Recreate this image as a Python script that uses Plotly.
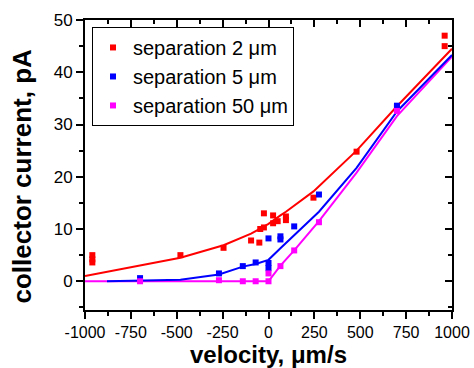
import plotly.graph_objects as go

# ---- data ----
red_x = [-960, -960, -960, -480, -245, -95, -50, -45, -25, -25, 25, 25, 50, 95, 95, 245, 480, 700, 960, 960]
red_y = [5.0, 4.2, 3.6, 5.0, 6.4, 7.8, 7.4, 10.0, 13.0, 10.3, 12.6, 11.1, 11.5, 12.4, 11.7, 16.0, 24.8, 33.4, 47.0, 45.0]

blue_x = [-700, -270, -140, -70, 0, 0, 0, 65, 65, 140, 275, 700]
blue_y = [0.6, 1.5, 2.9, 3.6, 3.5, 2.5, 8.2, 8.6, 8.0, 10.5, 16.6, 33.6]

mag_x = [-700, -270, -140, -70, 0, 0, 65, 140, 275, 700]
mag_y = [0.0, 0.2, 0.0, 0.0, 0.0, 1.5, 2.9, 5.9, 11.3, 32.6]

red_fit_x = [-1000, -480, -245, -95, -50, 0, 65, 95, 245, 480, 700, 1000]
red_fit_y = [1.0, 4.5, 6.9, 9.1, 10.0, 11.0, 12.6, 13.3, 17.2, 25.0, 33.5, 44.5]

blue_fit_x = [-880, -700, -480, -270, -140, -70, 0, 65, 140, 275, 480, 700, 1000]
blue_fit_y = [0.0, 0.1, 0.3, 1.3, 2.8, 3.3, 4.1, 6.3, 8.8, 13.3, 21.7, 32.5, 43.3]

mag_fit_x = [-1000, -700, -270, -140, -70, 0, 65, 140, 275, 480, 700, 1000]
mag_fit_y = [0.0, 0.0, 0.0, 0.0, 0.0, 0.0, 3.0, 5.9, 11.5, 20.8, 31.6, 43.0]

x_tickvals = [-1000, -750, -500, -250, 0, 250, 500, 750, 1000]
x_ticktext = ["-1000", "-750", "-500", "-250", "0", "250", "500", "750", "1000"]
y_tickvals = [0, 10, 20, 30, 40, 50]
y_ticktext = ["0", "10", "20", "30", "40", "50"]

x_title = "velocity, μm/s"
y_title = "collector current, pA"
labels = ["separation 2 μm", "separation 5 μm", "separation 50 μm"]
colors = ["#ff0000", "#0000ff", "#ff00ff"]

FONT = "Arial, Liberation Sans, sans-serif"

fig = go.Figure()

for fx, fy, c in [(mag_fit_x, mag_fit_y, colors[2]), (blue_fit_x, blue_fit_y, colors[1]), (red_fit_x, red_fit_y, colors[0])]:
    fig.add_trace(go.Scatter(x=fx, y=fy, mode="lines", line=dict(color=c, width=2),
                             showlegend=False, hoverinfo="skip"))

for px, py, c, lab in [(red_x, red_y, colors[0], labels[0]),
                       (blue_x, blue_y, colors[1], labels[1]),
                       (mag_x, mag_y, colors[2], labels[2])]:
    fig.add_trace(go.Scatter(x=px, y=py, mode="markers", name=lab,
                             marker=dict(symbol="square", size=6, color=c, line=dict(width=0))))

# invisible trace for the mirror axes
fig.add_trace(go.Scatter(x=[0], y=[0], xaxis="x2", yaxis="y2", mode="markers",
                         marker=dict(opacity=0), showlegend=False, hoverinfo="skip"))

axis_common = dict(showline=True, linecolor="black", linewidth=2, showgrid=False,
                   zeroline=False, ticklen=7, tickwidth=2, tickcolor="black", automargin=False)

fig.update_layout(
    width=474, height=368,
    margin=dict(l=85, r=22, t=20, b=58),
    paper_bgcolor="white", plot_bgcolor="white",
    font=dict(family=FONT, size=17, color="black"),
    xaxis=dict(range=[-1000, 1000], tickvals=x_tickvals, ticktext=x_ticktext,
               ticks="outside",
               minor=dict(dtick=125, tick0=0, ticks="outside", ticklen=4, tickwidth=2, tickcolor="black"),
               tickfont=dict(size=16, family=FONT), **axis_common),
    yaxis=dict(range=[-5.5, 50], tickvals=y_tickvals, ticktext=y_ticktext, ticks="outside",
               minor=dict(dtick=5, tick0=0, ticks="outside", ticklen=4, tickwidth=2, tickcolor="black"),
               tickfont=dict(size=17, family=FONT), **axis_common),
    xaxis2=dict(range=[-1000, 1000], overlaying="x", side="top", anchor="y", ticks="inside",
                tickvals=x_tickvals, showticklabels=False,
                minor=dict(dtick=125, tick0=0, ticks="inside", ticklen=4, tickwidth=2, tickcolor="black"),
                **axis_common),
    yaxis2=dict(range=[-5.5, 50], overlaying="y", side="right", anchor="x", ticks="inside",
                tickvals=y_tickvals, showticklabels=False,
                minor=dict(dtick=5, tick0=0, ticks="inside", ticklen=4, tickwidth=2, tickcolor="black"),
                **axis_common),
    legend=dict(x=0.019, y=0.976, xanchor="left", yanchor="top",
                bordercolor="black", borderwidth=1, bgcolor="white",
                font=dict(size=20, family=FONT), itemsizing="trace",
                tracegroupgap=0),
    showlegend=True,
    annotations=[
        dict(text="<b>" + x_title + "</b>", xref="paper", yref="paper", x=0.5, y=-0.152,
             xanchor="center", yanchor="middle", showarrow=False, borderpad=0,
             font=dict(size=24, family=FONT, color="black")),
        dict(text="<b>" + y_title + "</b>", xref="paper", yref="paper", x=-0.172, y=0.46,
             xanchor="center", yanchor="middle", showarrow=False, textangle=-90,
             font=dict(size=26, family=FONT, color="black")),
    ],
)

fig.write_html("out.html")
